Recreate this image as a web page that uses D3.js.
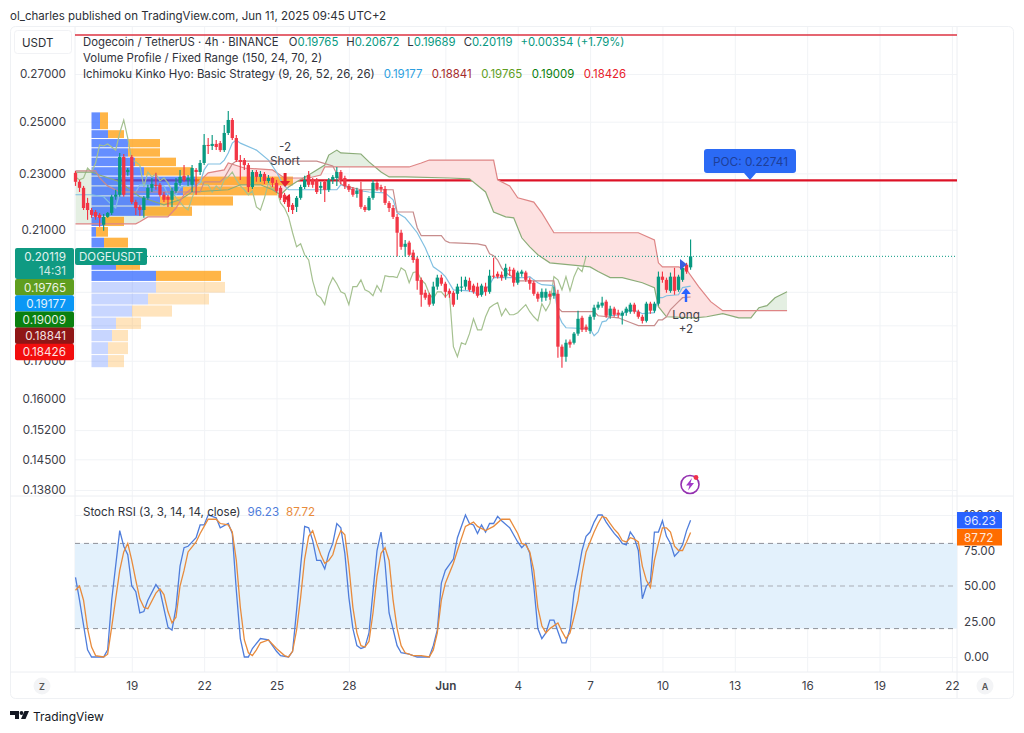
<!DOCTYPE html>
<html>
<head>
<meta charset="utf-8">
<script src="https://cdn.jsdelivr.net/npm/d3@7"></script>
<style>
  html, body { margin: 0; padding: 0; background: #fff; }
  svg { display: block; }
  text { font-family: Inter, "Noto Sans", sans-serif; }
  .axis path, .axis line { display: none; }
  .grid path { display: none; }
  .grid line { stroke: #f1f3f6; }
  .grid text { display: none; }
</style>
</head>
<body>
<svg id="chart" width="1024" height="733"></svg>
<script>
// 4h bars, index 0 is the first candle on the chart. [open, high, low, close]
const candles = [
[.2302,.2309,.2254,.2269],[.2269,.2276,.2232,.2247],[.2247,.2254,.2168,.2175],[.2193,.2211,.2134,.2168],[.2168,.2175,.2141,.2151],
[.2161,.2168,.2134,.2144],[.2151,.2158,.2110,.2141],[.2117,.2154,.2097,.2144],[.2144,.2161,.2141,.2158],[.2158,.2222,.2151,.2215],
[.2215,.2240,.2204,.2222],[.2222,.2377,.2215,.2362],[.2362,.2373,.2215,.2222],[.2305,.2320,.2291,.2313],[.2362,.2369,.2189,.2196],
[.2196,.2204,.2151,.2175],[.2179,.2186,.2148,.2168],[.2168,.2218,.2141,.2211],[.2211,.2258,.2204,.2247],[.2247,.2283,.2232,.2261],
[.2258,.2302,.2240,.2254],[.2258,.2265,.2215,.2222],[.2222,.2232,.2196,.2204],[.2215,.2222,.2179,.2204],[.2204,.2247,.2179,.2236],
[.2236,.2283,.2229,.2265],[.2265,.2313,.2254,.2287],[.2291,.2331,.2269,.2276],[.2276,.2294,.2254,.2283],[.2258,.2331,.2232,.2320],
[.2313,.2320,.2222,.2305],[.2305,.2350,.2294,.2339],[.2339,.2451,.2331,.2408],[.2408,.2435,.2373,.2404],[.2404,.2447,.2388,.2412],
[.2412,.2427,.2388,.2400],[.2415,.2423,.2381,.2388],[.2388,.2487,.2381,.2455],[.2455,.2544,.2447,.2507],[.2507,.2515,.2427,.2435],
[.2435,.2447,.2343,.2350],[.2350,.2369,.2276,.2343],[.2350,.2358,.2313,.2331],[.2331,.2339,.2232,.2250],[.2250,.2313,.2243,.2305],
[.2305,.2313,.2269,.2287],[.2287,.2309,.2269,.2298],[.2298,.2305,.2261,.2272],[.2272,.2294,.2265,.2283],[.2283,.2287,.2250,.2265],
[.2265,.2276,.2229,.2236],[.2247,.2254,.2204,.2211],[.2222,.2229,.2189,.2196],[.2215,.2222,.2161,.2179],[.2186,.2193,.2154,.2168],
[.2179,.2218,.2161,.2211],[.2211,.2258,.2204,.2250],[.2250,.2291,.2243,.2276],[.2294,.2309,.2250,.2258],[.2276,.2283,.2247,.2258],
[.2276,.2283,.2225,.2232],[.2247,.2269,.2225,.2254],[.2269,.2276,.2196,.2240],[.2240,.2283,.2232,.2276],[.2276,.2294,.2261,.2287],
[.2283,.2324,.2254,.2305],[.2305,.2313,.2261,.2276],[.2283,.2291,.2243,.2254],[.2254,.2261,.2232,.2240],[.2243,.2250,.2215,.2222],
[.2225,.2247,.2211,.2236],[.2240,.2269,.2172,.2179],[.2179,.2186,.2161,.2168],[.2168,.2218,.2165,.2211],[.2211,.2276,.2204,.2265],
[.2265,.2272,.2236,.2243],[.2250,.2258,.2232,.2243],[.2243,.2254,.2186,.2193],[.2193,.2200,.2161,.2175],[.2175,.2186,.2137,.2144],
[.2144,.2154,.2011,.2090],[.2090,.2100,.2033,.2043],[.2043,.2066,.2011,.2053],[.2057,.2063,.2011,.2017],[.2024,.2033,.1991,.2000],
[.2004,.2011,.1906,.1934],[.1937,.1944,.1855,.1891],[.1897,.1906,.1876,.1882],[.1891,.1897,.1855,.1861],[.1864,.1931,.1858,.1916],
[.1916,.1953,.1906,.1944],[.1944,.1953,.1919,.1925],[.1925,.1931,.1882,.1900],[.1903,.1910,.1882,.1894],[.1897,.1903,.1855,.1861],
[.1894,.1925,.1876,.1916],[.1913,.1947,.1900,.1916],[.1916,.1947,.1906,.1937],[.1934,.1944,.1900,.1906],[.1919,.1925,.1894,.1900],
[.1916,.1928,.1882,.1888],[.1891,.1925,.1885,.1919],[.1916,.1928,.1888,.1900],[.1900,.1969,.1894,.1950],[.1950,.2007,.1941,.1947],
[.1956,.1963,.1941,.1947],[.1953,.1963,.1934,.1944],[.1947,.1988,.1937,.1975],[.1969,.1978,.1950,.1966],[.1969,.1975,.1916,.1928],
[.1928,.1966,.1922,.1960],[.1956,.1969,.1947,.1963],[.1960,.1966,.1931,.1937],[.1937,.1944,.1906,.1925],[.1928,.1934,.1888,.1894],
[.1894,.1900,.1870,.1879],[.1882,.1910,.1870,.1900],[.1882,.1910,.1873,.1900],[.1894,.1903,.1876,.1885],[.1888,.1916,.1879,.1897],
[.1894,.1906,.1708,.1739],[.1739,.1745,.1681,.1711],[.1711,.1759,.1697,.1750],[.1753,.1759,.1736,.1745],[.1750,.1781,.1745,.1776],
[.1776,.1843,.1770,.1819],[.1822,.1828,.1781,.1787],[.1796,.1802,.1781,.1787],[.1784,.1831,.1776,.1825],[.1825,.1861,.1816,.1852],
[.1852,.1870,.1846,.1861],[.1858,.1885,.1852,.1867],[.1870,.1876,.1822,.1828],[.1828,.1858,.1819,.1849],[.1849,.1855,.1825,.1831],
[.1837,.1846,.1822,.1831],[.1828,.1843,.1802,.1837],[.1837,.1855,.1828,.1849],[.1840,.1867,.1834,.1861],[.1861,.1867,.1834,.1840],
[.1840,.1846,.1819,.1825],[.1825,.1831,.1805,.1813],[.1813,.1870,.1808,.1864],[.1864,.1870,.1834,.1843],[.1843,.1870,.1837,.1864],
[.1864,.1963,.1858,.1947],[.1947,.1963,.1928,.1937],[.1937,.1944,.1897,.1906],[.1903,.1960,.1897,.1947],[.1947,.1975,.1891,.1903],
[.1906,.1953,.1900,.1947],[.1937,.1991,.1931,.1975],[.1985,.1991,.1956,.1963],[.19765,.20672,.19689,.20119]
];

// ichimoku lines: [bar, price]
const tenkan = [[0,.2222],[4,.2222],[7,.2215],[8,.2200],[9,.2186],[10,.2175],[11,.2232],[15,.2232],[16,.2258],[22,.2254],[23,.2222],[25,.2222],[26,.2247],[27,.2254],[30,.2254],[31,.2265],[32,.2313],[33,.2335],[36,.2335],[37,.2350],[38,.2377],[39,.2415],[40,.2427],[41,.2415],[45,.2388],[48,.2350],[50,.2305],[51,.2276],[52,.2254],[53,.2240],[65,.2240],[66,.2258],[69,.2240],[73,.2232],[77,.2229],[79,.2204],[80,.2158],[82,.2141],[83,.2124],[85,.2090],[87,.2040],[89,.1978],[91,.1960],[92,.1947],[94,.1906],[98,.1903],[100,.1894],[101,.1891],[103,.1922],[104,.1944],[112,.1944],[113,.1947],[114,.1937],[115,.1928],[116,.1922],[119,.1919],[120,.1834],[121,.1808],[122,.1793],[128,.1790],[129,.1770],[130,.1781],[131,.1810],[132,.1813],[133,.1828],[136,.1831],[137,.1843],[139,.1843],[140,.1840],[141,.1834],[144,.1837],[145,.1882],[146,.1882],[147,.1888],[150,.1891],[151,.1913],[153,.19177]];
const kijun = [[0,.2309],[5,.2309],[6,.2283],[8,.2254],[11,.2232],[31,.2232],[32,.2269],[36,.2269],[37,.2283],[38,.2309],[39,.2335],[40,.2346],[60,.2346],[64,.2328],[65,.2298],[66,.2261],[67,.2254],[71,.2240],[79,.2240],[80,.2161],[84,.2161],[85,.2107],[86,.2080],[91,.2080],[92,.2063],[93,.2057],[100,.2053],[102,.2047],[103,.2020],[104,.2014],[105,.2000],[106,.1975],[107,.1960],[109,.1944],[110,.1934],[119,.1934],[120,.1852],[121,.1840],[129,.1840],[130,.1828],[135,.1822],[138,.1808],[140,.1799],[144,.1799],[145,.1816],[146,.1816],[147,.1825],[148,.1846],[149,.1858],[150,.1870],[151,.1882],[153,.18841]];
const spanA = [[0,.2305],[4,.2305],[6,.2294],[11,.2269],[16,.2215],[22,.2186],[26,.2204],[29,.2232],[38,.2240],[41,.2258],[46,.2258],[49,.2240],[51,.2222],[53,.2250],[55,.2269],[58,.2294],[62,.2331],[63,.2369],[65,.2388],[66,.2377],[71,.2373],[73,.2343],[76,.2305],[78,.2287],[82,.2287],[93,.2283],[98,.2280],[102,.2232],[104,.2161],[107,.2144],[109,.2141],[111,.2073],[113,.2043],[115,.2017],[118,.1991],[125,.1982],[128,.1978],[130,.1963],[133,.1944],[136,.1944],[141,.1928],[144,.1913],[145,.1855],[147,.1825],[154,.1822],[157,.1825],[161,.1834],[165,.1822],[168,.1822],[170,.1852],[172,.1858],[174,.1882],[177,.1900]];
const spanB = [[0,.2120],[15,.2120],[16,.2127],[18,.2144],[23,.2144],[25,.2175],[27,.2222],[30,.2258],[33,.2302],[37,.2313],[38,.2339],[42,.2320],[49,.2313],[52,.2283],[58,.2283],[61,.2294],[62,.2324],[83,.2324],[86,.2339],[88,.2350],[104,.2350],[105,.2276],[108,.2254],[110,.2211],[114,.2196],[116,.2158],[119,.2090],[140,.2090],[144,.2066],[145,.1991],[146,.1978],[150,.1978],[152,.1969],[155,.1916],[158,.1870],[161,.1843],[177,.1843]];
const chikouLag = 26;

// volume profile rows, top to bottom
const vpEdges = [.2540,.2468,.2433,.2397,.2361,.2325,.2290,.2254,.2218,.2182,.2146,.2111,.2075,.2039,.2003,.1967,.1932,.1896,.1860,.1824,.1788,.1753,.1717,.1681];
const vpBuy = [8.5,16.5,36.5,36.5,43.5,52.5,103.5,91.5,68.5,51.5,11.5,4.5,12.5,12,24.5,64.5,64.5,56.5,40.5,24.5,20.5,16.5,16.5];
const vpSell = [8,16,32,32,41,48,98,94,73,49,21,12,24,24,24,65,69,61,40,25,16,20,16];
const vpValueAreaRows = 16;
const pocPrice = 0.22741;
const lastPrice = 0.20119;

// stoch rsi: [bar, value]
const stochK = [[0,56],[1,40],[3,5],[4,0],[7,0],[8,5],[9,40],[11,89],[12,78],[13,72],[14,50],[15,46],[16,31],[17,32],[18,40],[20,51],[21,47],[23,21],[24,19],[25,35],[26,64],[27,77],[28,78],[30,84],[31,93],[32,93],[33,100],[35,98],[36,91],[38,94],[39,87],[40,47],[41,13],[42,0],[43,0],[44,6],[46,13],[48,12],[50,4],[51,1],[53,0],[54,4],[55,33],[56,64],[57,92],[58,91],[59,82],[60,68],[61,68],[62,62],[63,73],[64,80],[65,94],[66,91],[67,73],[68,42],[69,20],[70,8],[71,6],[72,7],[73,17],[75,75],[76,88],[77,66],[78,31],[80,8],[81,3],[83,2],[85,0],[88,0],[89,8],[90,19],[91,52],[92,61],[94,69],[95,84],[97,100],[98,94],[99,93],[100,87],[101,93],[102,88],[103,94],[104,94],[105,99],[106,96],[108,91],[110,81],[111,77],[112,80],[113,73],[114,50],[115,20],[116,13],[117,17],[118,26],[119,26],[120,18],[121,10],[122,10],[123,20],[124,45],[125,59],[126,75],[127,85],[128,88],[129,95],[130,100],[131,100],[132,95],[133,91],[134,87],[135,84],[136,80],[137,79],[138,88],[139,84],[140,75],[141,41],[142,50],[143,53],[144,88],[145,88],[146,96],[147,85],[148,80],[149,71],[150,74],[151,79],[152,89],[153,96.23]];
const stochD = [[0,47],[1,50],[2,40],[3,20],[4,7],[5,1],[7,0],[8,2],[9,21],[11,61],[12,74],[13,80],[14,68],[15,54],[16,41],[17,35],[18,34],[20,45],[21,48],[22,44],[23,32],[24,24],[25,28],[26,50],[27,61],[28,74],[30,81],[31,87],[32,92],[33,97],[35,97],[36,94],[38,93],[39,88],[40,68],[41,35],[42,12],[43,3],[44,1],[45,5],[46,10],[48,12],[50,6],[52,1],[53,0],[54,4],[55,19],[56,42],[57,69],[58,85],[59,89],[60,80],[61,72],[62,66],[63,68],[64,72],[65,82],[66,89],[67,86],[68,64],[69,35],[70,17],[71,8],[72,7],[73,11],[74,31],[75,57],[76,73],[77,77],[78,68],[79,40],[80,20],[81,8],[82,3],[84,1],[86,1],[88,0],[89,5],[90,17],[91,40],[92,52],[94,66],[95,75],[97,92],[99,95],[100,92],[102,89],[104,92],[106,97],[108,97],[110,87],[111,80],[112,79],[113,74],[114,61],[115,35],[116,22],[117,17],[118,20],[120,24],[121,18],[122,13],[123,17],[124,28],[125,40],[126,59],[127,74],[128,81],[129,88],[130,94],[131,99],[132,98],[133,94],[134,90],[135,87],[136,82],[137,81],[138,84],[139,83],[140,81],[141,64],[142,54],[143,49],[144,68],[145,80],[146,91],[147,91],[148,88],[149,78],[150,75],[151,75],[152,81],[153,87.72]];

// axes
const priceTicks = [.27,.25,.23,.21,.19,.18,.17,.16,.152,.145,.138];
const priceTicksUnlabelled = [.19,.18]; // grid only, the tags sit on top of them
const stochTicks = [100,75,50,25,0];
const stochLevels = [80,50,20];
const timeTickBars = [14,32,50,68,92,110,128,146,164,182,200,218];
const timeTickLabels = ["19","22","25","28","Jun","4","7","10","13","16","19","22"];

// tags on the price scale
const tagValues = ["0.19765","0.19177","0.19009","0.18841","0.18426"];
const tagColors = ["#5f9e1f","#0a97f5","#0a800f","#8f1616","#f20d0d"];
const legendO = "0.19765", legendH = "0.20672", legendL = "0.19689", legendC = "0.20119", legendChg = "+0.00354 (+1.79%)";
const ichiValues = ["0.19177","0.18841","0.19765","0.19009","0.18426"];
const ichiColors = ["#2e9fe0","#a52a2a","#5f9e1f","#0a800f","#e8202a"];

const upColor = "#089981", downColor = "#f23645";
const plotL = 75, plotR = 957;

const svg = d3.select("#chart");
const x = d3.scaleLinear().domain([0, 218]).range([75.5, 951.9]);
const y = d3.scaleLog().domain([0.138, 0.27]).range([490, 74]);
const yS = d3.scaleLinear().domain([0, 100]).range([657, 515]);
const vol = d3.scaleLinear().domain([0, 201]).range([91.5, 292.5]);

// frame
svg.append("rect").attr("x", 10.5).attr("y", 26.5).attr("width", 1003).attr("height", 672)
  .attr("rx", 5).attr("fill", "none").attr("stroke", "#eff1f4");

// grid
svg.append("g").attr("class", "grid").attr("transform", `translate(${plotL},0)`)
  .call(d3.axisLeft(y).tickValues(priceTicks).tickSize(-(plotR - plotL)).tickFormat(""));
svg.append("g").attr("class", "grid").attr("transform", `translate(${plotL},0)`)
  .call(d3.axisLeft(yS).tickValues([100, 0]).tickSize(-(plotR - plotL)).tickFormat(""));
svg.append("g").attr("class", "grid").attr("transform", "translate(0,672)")
  .call(d3.axisBottom(x).tickValues(timeTickBars).tickSize(-645).tickFormat(""));
[[plotL, 27, plotL, 672], [plotR, 27, plotR, 698], [10, 496, 1013, 496], [10, 672, 1013, 672]].forEach(l => {
  svg.append("line").attr("x1", l[0]).attr("y1", l[1]).attr("x2", l[2]).attr("y2", l[3]).attr("stroke", "#eceef2");
});

// stoch band
svg.append("rect").attr("x", plotL).attr("width", plotR - plotL)
  .attr("y", yS(80)).attr("height", yS(20) - yS(80)).attr("fill", "#e3f1fc");
svg.selectAll(".level").data(stochLevels).join("line").attr("class", "level")
  .attr("x1", plotL).attr("x2", plotR).attr("y1", d => yS(d)).attr("y2", d => yS(d))
  .attr("stroke", d => d === 50 ? "#a9adb5" : "#8d9199").attr("stroke-width", 1).attr("stroke-dasharray", "5 4");

// horizontal rays
svg.append("line").attr("x1", plotL).attr("x2", plotR).attr("y1", 35).attr("y2", 35).attr("stroke", "#dc3342").attr("stroke-width", 1.6);
svg.append("line").attr("x1", plotL).attr("x2", plotR).attr("y1", y(pocPrice)).attr("y2", y(pocPrice)).attr("stroke", "#dd1226").attr("stroke-width", 2.2);

// kumo fill: the two spans clip each other so each colour only shows where it belongs
const xA = d => x(d[0]), yA = d => y(d[1]);
const areaUp = d3.area().x(xA).y1(yA).y0(0);
const areaDown = d3.area().x(xA).y1(yA).y0(733);
const defs = svg.append("defs");
defs.append("clipPath").attr("id", "aboveB").append("path").attr("d", areaUp(spanB));
defs.append("clipPath").attr("id", "aboveA").append("path").attr("d", areaUp(spanA));
svg.append("path").attr("d", areaDown(spanA)).attr("clip-path", "url(#aboveB)").attr("fill", "#e4efe2");
svg.append("path").attr("d", areaDown(spanB)).attr("clip-path", "url(#aboveA)").attr("fill", "#fde1e1");

// volume profile
const vpRows = vpBuy.map((b, i) => ({ i, buy: b, sell: vpSell[i], top: vpEdges[i], bottom: vpEdges[i + 1] }));
const vpG = svg.append("g");
vpG.selectAll(".buy").data(vpRows).join("rect").attr("class", "buy")
  .attr("x", vol(0)).attr("width", d => vol(d.buy) - vol(0))
  .attr("y", d => y(d.top) + 0.5).attr("height", d => y(d.bottom) - y(d.top) - 1)
  .attr("fill", "#2962ff").attr("opacity", d => d.i < vpValueAreaRows ? 0.72 : 0.26);
vpG.selectAll(".sell").data(vpRows).join("rect").attr("class", "sell")
  .attr("x", d => vol(d.buy)).attr("width", d => vol(d.buy + d.sell) - vol(d.buy))
  .attr("y", d => y(d.top) + 0.5).attr("height", d => y(d.bottom) - y(d.top) - 1)
  .attr("fill", "#ff9800").attr("opacity", d => d.i < vpValueAreaRows ? 0.72 : 0.26);

// ichimoku lines
const line = d3.line().x(xA).y(yA);
const chikou = candles.slice(chikouLag).map((d, i) => [i, d[3]]);
[[chikou, "#a5c190"], [spanA, "#8bac78"], [spanB, "#de8585"], [tenkan, "#82c0e2"], [kijun, "#c78c8c"]].forEach(s => {
  svg.append("path").attr("d", line(s[0])).attr("fill", "none").attr("stroke", s[1]).attr("stroke-width", 1.2);
});

// candles
const bars = svg.append("g");
bars.selectAll(".wick").data(candles).join("line").attr("class", "wick")
  .attr("x1", (d, i) => x(i)).attr("x2", (d, i) => x(i))
  .attr("y1", d => y(d[1])).attr("y2", d => y(d[2]))
  .attr("stroke", d => d[3] >= d[0] ? upColor : downColor).attr("stroke-width", 1.15);
bars.selectAll(".body").data(candles).join("rect").attr("class", "body")
  .attr("x", (d, i) => x(i) - 1.65).attr("width", 3.3)
  .attr("y", d => y(Math.max(d[0], d[3])))
  .attr("height", d => Math.max(1, y(Math.min(d[0], d[3])) - y(Math.max(d[0], d[3]))))
  .attr("fill", d => d[3] >= d[0] ? upColor : downColor);

// last price
svg.append("line").attr("x1", plotL).attr("x2", plotR).attr("y1", y(lastPrice)).attr("y2", y(lastPrice))
  .attr("stroke", "#089981").attr("stroke-width", 1).attr("stroke-dasharray", "1 2");

// strategy marks
const noteStyle = s => s.attr("text-anchor", "middle").attr("font-size", 11.7).attr("fill", "#3f424a");
svg.append("text").attr("x", 285).attr("y", 151).text("-2").call(noteStyle);
svg.append("text").attr("x", 285).attr("y", 165).text("Short").call(noteStyle);
svg.append("text").attr("x", 686).attr("y", 319).text("Long").call(noteStyle);
svg.append("text").attr("x", 686).attr("y", 333).text("+2").call(noteStyle);
svg.append("path").attr("d", "M283.6 173h3v8h3.6l-5.1 6-5.1-6h3.6z").attr("fill", "#e5212f");
svg.append("path").attr("d", "M284 198l6-4v8z").attr("fill", "#e5212f");
svg.append("path").attr("d", "M684.8 302v-8h-3.6l4.8-6 4.8 6h-3.6v8z").attr("fill", "#2962ff");
svg.append("path").attr("d", "M680 259l7 5.5-7 5.5z").attr("fill", "#3b5fe0");

// axes
const priceAxis = svg.append("g").attr("class", "axis").attr("transform", "translate(75,0)")
  .call(d3.axisLeft(y).tickValues(priceTicks).tickSize(0).tickPadding(9)
    .tickFormat(d => priceTicksUnlabelled.includes(d) ? "" : d3.format(".5f")(d)));
priceAxis.selectAll("text").attr("font-size", 11.7).attr("fill", "#3d4048");
const stochAxis = svg.append("g").attr("class", "axis").attr("transform", "translate(957,0)")
  .call(d3.axisRight(yS).tickValues(stochTicks).tickSize(0).tickPadding(7).tickFormat(d3.format(".2f")));
stochAxis.selectAll("text").attr("font-size", 11.7).attr("fill", "#3d4048");
const timeAxis = svg.append("g").attr("class", "axis").attr("transform", "translate(0,672)")
  .call(d3.axisBottom(x).tickValues(timeTickBars).tickSize(0).tickPadding(10).tickFormat((d, i) => timeTickLabels[i]));
timeAxis.selectAll("text").attr("font-size", 11.7).attr("fill", "#3d4048")
  .attr("font-weight", (d, i) => timeTickLabels[i] === "Jun" ? 600 : 400);

// stoch lines
svg.append("path").attr("d", d3.line().x(xA).y(d => yS(d[1]))(stochK)).attr("fill", "none").attr("stroke", "#4f7ddb").attr("stroke-width", 1.3);
svg.append("path").attr("d", d3.line().x(xA).y(d => yS(d[1]))(stochD)).attr("fill", "none").attr("stroke", "#e88b3c").attr("stroke-width", 1.3);

// price tags on the left
const tag = (by, h, fill, label) => {
  svg.append("rect").attr("x", 15).attr("y", by).attr("width", 59).attr("height", h).attr("rx", 2).attr("fill", fill);
  svg.append("text").attr("x", 66).attr("y", by + 12.5).attr("text-anchor", "end").attr("font-size", 11.7).attr("fill", "#fff").attr("opacity", 0.88).text(label);
};
tag(248, 31, "#0f9a82", lastPrice.toFixed(5));
svg.append("text").attr("x", 66).attr("y", 274.5).attr("text-anchor", "end").attr("font-size", 11.5).attr("fill", "#fff").attr("opacity", 0.8).text("14:31");
tagValues.forEach((v, i) => tag(279 + i * 16.2, 16.4, tagColors[i], v));
svg.append("rect").attr("x", 75).attr("y", 248).attr("width", 72).attr("height", 17).attr("rx", 2).attr("fill", "#0f9a82");
svg.append("text").attr("x", 111).attr("y", 261).attr("text-anchor", "middle").attr("font-size", 11.5).attr("fill", "#fff").attr("opacity", 0.88).text("DOGEUSDT");

// stoch tags
[[96.23, "#2962ff", 512], [87.72, "#ff6d00", 529]].forEach(t => {
  svg.append("rect").attr("x", 957).attr("y", t[2]).attr("width", 45).attr("height", 16.5).attr("fill", t[1]);
  svg.append("text").attr("x", 964).attr("y", t[2] + 12.5).attr("font-size", 11.7).attr("fill", "#fff").attr("opacity", 0.85).text(t[0].toFixed(2));
});

// POC callout
svg.append("path").attr("d", "M707 149h86a3 3 0 0 1 3 3v18a3 3 0 0 1-3 3h-37l-6 7-6-7h-37a3 3 0 0 1-3-3v-18a3 3 0 0 1 3-3z").attr("fill", "#2b6af5");
svg.append("text").attr("x", 750.5).attr("y", 165.5).attr("text-anchor", "middle").attr("font-size", 11.8).attr("fill", "#1e3f99").text("POC: " + pocPrice.toFixed(5));

// header and legend
svg.append("text").attr("x", 10).attr("y", 19.5).attr("font-size", 11.5).attr("fill", "#2c2f36").text("ol_charles published on TradingView.com, Jun 11, 2025 09:45 UTC+2");
svg.append("rect").attr("x", 14.5).attr("y", 30.5).attr("width", 57).attr("height", 23).attr("rx", 3).attr("fill", "#fff").attr("stroke", "#f1f2f5");
svg.append("text").attr("x", 22).attr("y", 47).attr("font-size", 11.5).attr("fill", "#2c2f36").text("USDT");

const legend = svg.append("g").attr("font-size", 11.45).attr("fill", "#2f323a");
const row1 = legend.append("text").attr("x", 83).attr("y", 46).attr("font-size", 11.35);
row1.append("tspan").text("Dogecoin / TetherUS · 4h · BINANCE ");
[["O", legendO], ["H", legendH], ["L", legendL], ["C", legendC]].forEach((p, i) => {
  row1.append("tspan").attr("dx", i ? 8 : 7).text(p[0]);
  row1.append("tspan").attr("fill", upColor).text(p[1]);
});
row1.append("tspan").attr("dx", 8).attr("fill", upColor).text(legendChg);
legend.append("text").attr("x", 83).attr("y", 62).text("Volume Profile / Fixed Range (150, 24, 70, 2)");
const row3 = legend.append("text").attr("x", 83).attr("y", 78);
row3.append("tspan").text("Ichimoku Kinko Hyo: Basic Strategy (9, 26, 52, 26, 26)");
ichiValues.forEach((v, i) => row3.append("tspan").attr("dx", i ? 9.5 : 9).attr("fill", ichiColors[i]).text(v));

const stochLegend = legend.append("text").attr("x", 83).attr("y", 516).attr("font-size", 11.6);
stochLegend.append("tspan").text("Stoch RSI (3, 3, 14, 14, close)");
stochLegend.append("tspan").attr("dx", 7).attr("fill", "#4f7ddb").text("96.23");
stochLegend.append("tspan").attr("dx", 7).attr("fill", "#e88b3c").text("87.72");

// corner buttons
[[42, "Z"], [985, "A"]].forEach(b => {
  svg.append("circle").attr("cx", b[0]).attr("cy", 686).attr("r", 8.5).attr("fill", "#f3f4f6");
  svg.append("text").attr("x", b[0]).attr("y", 689.5).attr("text-anchor", "middle").attr("font-size", 9).attr("font-weight", 600).attr("fill", "#555").text(b[1]);
});

// alert icon
svg.append("circle").attr("cx", 690).attr("cy", 484.5).attr("r", 9).attr("fill", "#fff").attr("stroke", "#9430b0").attr("stroke-width", 1.6);
svg.append("path").attr("d", "M692 478l-6 7.5h3.5l-1.5 5 6-7.5h-3.5z").attr("fill", "#a238c8");
svg.append("circle").attr("cx", 696).attr("cy", 477.5).attr("r", 2.4).attr("fill", "#f0304a");

// logo
svg.append("path").attr("d", "M10 711h9v8h-4v-4h-5z M24.5 711h4.5l-3.5 8h-4.5z").attr("fill", "#131722");
svg.append("circle").attr("cx", 21.5).attr("cy", 713).attr("r", 1.9).attr("fill", "#131722");
svg.append("text").attr("x", 33).attr("y", 720.5).attr("font-size", 12).attr("font-weight", 400).attr("fill", "#131722").text("TradingView");
</script>
</body>
</html>
